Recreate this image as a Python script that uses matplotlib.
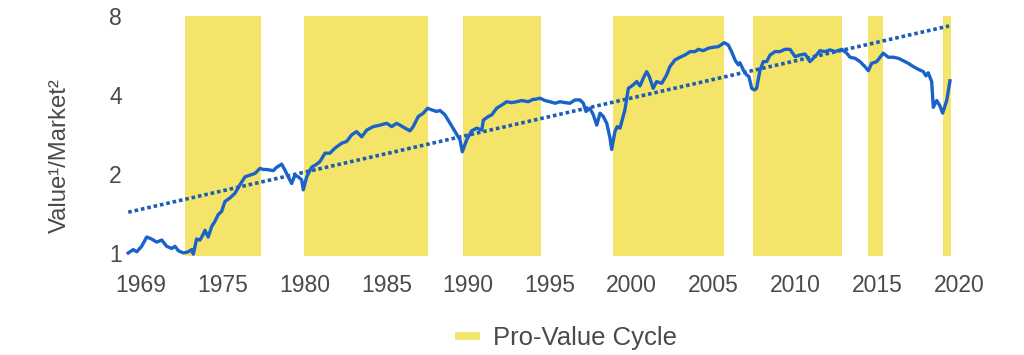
import matplotlib
matplotlib.use("Agg")
import matplotlib.pyplot as plt
from matplotlib.lines import Line2D

plt.rcParams['font.family'] = ['Liberation Sans', 'DejaVu Sans']

# value / market relative index (log scale)
years = [1969.22, 1969.53, 1969.74, 1970.04, 1970.35, 1970.65, 1970.96, 1971.27, 1971.57, 1971.88,
         1972.08, 1972.28, 1972.59, 1972.89, 1973.10, 1973.20, 1973.40, 1973.61, 1973.81, 1973.91,
         1974.11, 1974.32, 1974.52, 1974.72, 1974.93, 1975.13, 1975.44, 1975.75, 1976.05, 1976.36,
         1976.66, 1976.97, 1977.27, 1977.48, 1977.68, 1978.09, 1978.29, 1978.60, 1978.80, 1979.00,
         1979.21, 1979.41, 1979.61, 1979.82, 1979.92, 1980.13, 1980.43, 1980.74, 1980.94, 1981.25,
         1981.55, 1981.86, 1982.27, 1982.57, 1982.88, 1983.18, 1983.49, 1983.80, 1984.20, 1984.61,
         1985.02, 1985.32, 1985.63, 1985.83, 1986.14, 1986.44, 1986.64, 1986.95, 1987.26, 1987.52,
         1987.77, 1988.07, 1988.28, 1988.58, 1988.89, 1989.19, 1989.50, 1989.64, 1989.91, 1990.21,
         1990.52, 1990.83, 1990.93, 1991.23, 1991.44, 1991.74, 1992.05, 1992.35, 1992.66, 1992.97,
         1993.27, 1993.67, 1993.98, 1994.08, 1994.39, 1994.69, 1995.00, 1995.31, 1995.61, 1995.92,
         1996.22, 1996.53, 1996.83, 1997.04, 1997.20, 1997.44, 1997.65, 1997.86, 1998.06, 1998.26,
         1998.47, 1998.67, 1998.77, 1998.97, 1999.11, 1999.28, 1999.58, 1999.79, 2000.09, 2000.30,
         2000.50, 2000.70, 2000.91, 2001.07, 2001.31, 2001.52, 2001.83, 2002.13, 2002.33, 2002.64,
         2002.95, 2003.25, 2003.56, 2003.86, 2004.07, 2004.37, 2004.68, 2004.98, 2005.29, 2005.65,
         2005.90, 2006.10, 2006.31, 2006.51, 2006.61, 2006.82, 2007.02, 2007.16, 2007.33, 2007.49,
         2007.63, 2007.84, 2008.04, 2008.25, 2008.45, 2008.75, 2009.06, 2009.36, 2009.67, 2009.98,
         2010.28, 2010.59, 2010.89, 2011.20, 2011.50, 2011.81, 2012.12, 2012.42, 2012.83, 2013.14,
         2013.34, 2013.64, 2013.95, 2014.25, 2014.46, 2014.66, 2014.97, 2015.37, 2015.68, 2015.98,
         2016.29, 2016.60, 2016.90, 2017.21, 2017.51, 2017.82, 2017.98, 2018.12, 2018.33, 2018.43,
         2018.64, 2018.84, 2019.00, 2019.25, 2019.45]
values = [1.00, 1.03, 1.01, 1.06, 1.15, 1.13, 1.10, 1.12, 1.06, 1.04,
          1.06, 1.02, 1.00, 1.01, 1.03, 0.99, 1.13, 1.12, 1.18, 1.22,
          1.15, 1.26, 1.32, 1.40, 1.44, 1.57, 1.62, 1.69, 1.82, 1.95,
          1.98, 2.01, 2.10, 2.08, 2.08, 2.06, 2.12, 2.18, 2.07, 1.95,
          1.84, 1.98, 1.95, 1.90, 1.74, 1.95, 2.12, 2.18, 2.23, 2.40,
          2.40, 2.51, 2.62, 2.66, 2.82, 2.90, 2.77, 2.94, 3.03, 3.07,
          3.12, 3.03, 3.12, 3.07, 2.99, 2.92, 3.03, 3.31, 3.41, 3.56,
          3.51, 3.46, 3.49, 3.36, 3.12, 2.90, 2.70, 2.43, 2.70, 2.92,
          2.99, 2.94, 3.21, 3.31, 3.36, 3.56, 3.66, 3.77, 3.74, 3.77,
          3.81, 3.77, 3.85, 3.85, 3.89, 3.81, 3.77, 3.72, 3.77, 3.74,
          3.72, 3.83, 3.83, 3.72, 3.46, 3.56, 3.36, 3.07, 3.41, 3.31,
          3.12, 2.74, 2.48, 2.90, 3.03, 2.99, 3.51, 4.24, 4.37, 4.50,
          4.33, 4.63, 4.91, 4.70, 4.24, 4.50, 4.43, 4.77, 5.13, 5.44,
          5.57, 5.68, 5.85, 5.85, 5.97, 5.90, 6.03, 6.08, 6.11, 6.33,
          6.20, 5.85, 5.44, 5.21, 5.31, 4.98, 4.77, 4.70, 4.24, 4.18,
          4.24, 4.98, 5.36, 5.36, 5.68, 5.85, 5.85, 5.97, 5.97, 5.60,
          5.68, 5.73, 5.36, 5.60, 5.90, 5.85, 5.94, 5.85, 5.97, 5.77,
          5.57, 5.52, 5.36, 5.13, 4.95, 5.28, 5.36, 5.77, 5.57, 5.57,
          5.52, 5.40, 5.28, 5.13, 5.01, 4.91, 4.73, 4.86, 4.50, 3.59,
          3.81, 3.63, 3.41, 3.81, 4.53]

# exponential trend (straight on log scale)
trend_years = [1969.22, 2019.40]
trend_values = [1.43, 7.33]

# pro-value cycles
cycle_starts = [1972.69, 1979.96, 1989.68, 1998.85, 2007.41, 2014.44, 2019.02]
cycle_ends = [1977.33, 1987.54, 1994.45, 2005.64, 2012.85, 2015.36, 2019.51]

tick_pos = [1970, 1975, 1980, 1985, 1990, 1995, 2000, 2005, 2010, 2015, 2020]
tick_labels = ['1969', '1975', '1980', '1985', '1990', '1995', '2000', '2005', '2010', '2015', '2020']
y_ticks = [1, 2, 4, 8]

yellow = '#f4e46a'
blue = '#1a62c9'
grey = '#4a4a4a'

fig = plt.figure(figsize=(10.24, 3.55), dpi=100)
ax = fig.add_axes([0.1217, 0.279, 0.8164, 0.676])

for s, e in zip(cycle_starts, cycle_ends):
    ax.axvspan(s, e, color=yellow, lw=0, zorder=1)

ax.plot(trend_years, trend_values, color='#1f5db5', lw=2.6, ls=(0, (1, 0.8)), zorder=2)
ax.plot(years, values, color=blue, lw=2.4, zorder=3, solid_joinstyle='round')

ax.set_yscale('log')
ax.set_ylim(0.974, 8.0)
ax.set_xlim(1969.0, 2020.1)
ax.set_yticks(y_ticks)
ax.set_yticklabels([str(t) for t in y_ticks])
ax.minorticks_off()
ax.set_xticks(tick_pos)
ax.set_xticklabels(tick_labels)
ax.tick_params(axis='both', length=0, labelsize=16.5, labelcolor=grey)
ax.tick_params(axis='x', pad=13)
ax.tick_params(axis='y', pad=2)
for sp in ax.spines.values():
    sp.set_visible(False)

fig.text(60 / 1024, 1 - 156 / 355, 'Value¹/Market²', rotation=90, ha='center', va='center',
         fontsize=17.2, color=grey)

handle = Line2D([], [], color=yellow, lw=5.5, solid_capstyle='butt')
fig.legend([handle], ['Pro-Value Cycle'], loc='center', bbox_to_anchor=(566 / 1024, 1 - 338 / 355),
           frameon=False, fontsize=18.5, labelcolor=grey, handlelength=1.0, handletextpad=0.5)

fig.savefig('out.png', dpi=100, facecolor='white')
